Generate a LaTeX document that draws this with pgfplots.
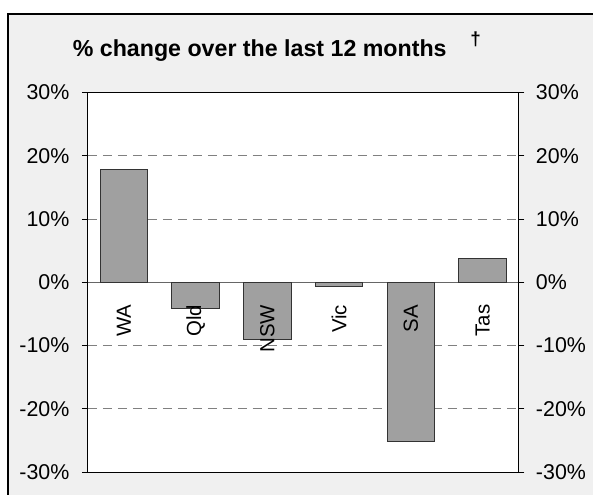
\documentclass[border=0pt]{standalone}
\usepackage{pgfplots}
\pgfplotsset{compat=1.18}
\usepackage{fontspec}
\setmainfont{Liberation Sans}
\definecolor{bg}{HTML}{F0F0F0}
\definecolor{barfill}{HTML}{A0A0A0}
\definecolor{gridc}{HTML}{808080}
\begin{document}
\begin{tikzpicture}
\fill[white] (0bp,0bp) rectangle (594bp,495bp);
\fill[bg] (8bp,0bp) rectangle (594bp,481bp);
\draw[black, line width=1.2bp] (8bp,0bp) -- (8bp,481bp) -- (594bp,481bp);
\node[font=\fontsize{23.3}{26}\selectfont\bfseries, anchor=base, inner sep=0pt] at (260bp,438bp) {\% change over the last 12 months};
\node[font=\fontsize{19}{20}\selectfont\bfseries, anchor=base, inner sep=0pt] at (476bp,449bp) {\textdagger};
\pgfplotsset{common/.style={at={(88bp,22.4bp)}, anchor=south west, scale only axis,
  width=431bp, height=379.9bp, xmin=-0.5, xmax=5.5, ymin=-30, ymax=30,
  ytick={-30,-20,...,30}, yticklabel={\pgfmathprintnumber{\tick}\%},
  tick align=outside, major tick length=6bp, tick style={black, line width=0.8bp},
  /pgf/number format/assume math mode=true,
  ticklabel style={font=\fontsize{21.5}{24}\selectfont}}}
\begin{axis}[common, axis background/.style={fill=white},
  axis line style={black, line width=0.9bp}, ytick pos=left, yticklabel shift=9bp,
  xtick=\empty,
  ymajorgrids, major grid style={gridc, dash pattern=on 9bp off 6bp, line width=0.9bp},
  extra y ticks={0}, extra y tick labels={},
  extra y tick style={ymajorgrids=true, major grid style={solid, black!60, line width=1bp}}]
\addplot[ybar, bar width=47.6bp, fill=barfill, draw=black!80, line width=0.8bp]
  coordinates {(0,17.8) (1,-4.1) (2,-9.05) (3,-0.6) (4,-25.2) (5,3.85)};
\end{axis}
\begin{axis}[common, axis y line*=right, axis line style={black, line width=0.9bp},
  yticklabel shift=8bp, x axis line style={draw=none},
  xtick={0,...,5}, xticklabels={WA,Qld,NSW,Vic,SA,Tas}, xtick style={draw=none},
  xticklabel style={rotate=90, anchor=east, font=\fontsize{20.5}{22}\selectfont}, xticklabel shift=-177bp]
\end{axis}
\end{tikzpicture}
\end{document}
